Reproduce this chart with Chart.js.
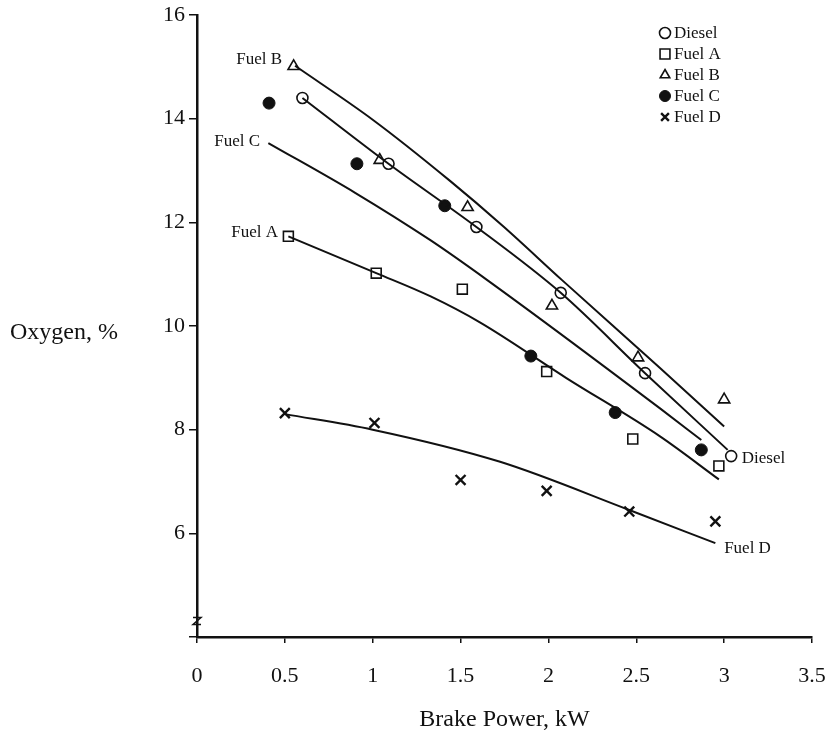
<!DOCTYPE html>
<html>
<head>
<meta charset="utf-8">
<script src="https://cdn.jsdelivr.net/npm/chart.js@4/dist/chart.umd.min.js"></script>
<style>
  body { margin: 0; background: #fff; }
  #wrap { width: 831px; height: 738px; }
</style>
</head>
<body>
<div id="wrap"><canvas id="oxygenChart" width="831" height="738"></canvas></div>
<script>
// measured points (brake power kW, oxygen %)
const dieselX = [0.6, 1.09, 1.59, 2.07, 2.55, 3.04];
const dieselY = [14.4, 13.13, 11.91, 10.64, 9.09, 7.49];
const fuelAX = [0.52, 1.02, 1.51, 1.99, 2.48, 2.97];
const fuelAY = [11.73, 11.02, 10.71, 9.12, 7.82, 7.3];
const fuelBX = [0.55, 1.04, 1.54, 2.02, 2.51, 3.0];
const fuelBY = [15.01, 13.2, 12.29, 10.39, 9.39, 8.58];
const fuelCX = [0.41, 0.91, 1.41, 1.9, 2.38, 2.87];
const fuelCY = [14.3, 13.13, 12.32, 9.42, 8.33, 7.61];
const fuelDX = [0.5, 1.01, 1.5, 1.99, 2.46, 2.95];
const fuelDY = [8.32, 8.13, 7.03, 6.82, 6.42, 6.23];

// trend curves
const dieselFitX = [0.6, 1.09, 1.59, 2.07, 2.55, 3.02];
const dieselFitY = [14.4, 13.13, 11.91, 10.64, 9.09, 7.61];
const fuelAFitX = [0.52, 1.02, 1.33, 1.61, 2.1, 2.635, 2.97];
const fuelAFitY = [11.73, 11.02, 10.57, 10.07, 9.0, 7.87, 7.04];
const fuelBFitX = [0.558, 1.0, 1.44, 1.744, 2.076, 2.635, 3.0];
const fuelBFitY = [15.02, 13.98, 12.8, 11.92, 10.89, 9.19, 8.06];
const fuelCFitX = [0.406, 0.9, 1.326, 1.65, 2.635, 2.87];
const fuelCFitY = [13.53, 12.57, 11.66, 10.89, 8.41, 7.8];
const fuelDFitX = [0.5, 1.0, 1.725, 2.46, 2.95];
const fuelDFitY = [8.3, 8.0, 7.38, 6.45, 5.81];

const seriesNames = ["Diesel", "Fuel A", "Fuel B", "Fuel C", "Fuel D"];
const xTicks = [0, 0.5, 1, 1.5, 2, 2.5, 3, 3.5];
const yTicks = [4, 6, 8, 10, 12, 14, 16];

// curve labels: text, x, y (data units), side of the anchor
const curveLabels = [
  ["Fuel B", 0.484, 15.14, "right"],
  ["Fuel C", 0.359, 13.56, "right"],
  ["Fuel A", 0.461, 11.8, "right"],
  ["Diesel", 3.1, 7.44, "left"],
  ["Fuel D", 3.0, 5.7, "left"]
];

const serif = "'Liberation Serif', 'Times New Roman', serif";

function pts(xs, ys) {
  return xs.map((x, i) => ({ x: x, y: ys[i] }));
}

const markerStyles = [
  { pointStyle: "circle", radius: 5.5, backgroundColor: "#fff", borderWidth: 1.6 },
  { pointStyle: "rect", radius: 7, backgroundColor: "#fff", borderWidth: 1.6 },
  { pointStyle: "triangle", radius: 6.5, backgroundColor: "#fff", borderWidth: 1.6 },
  { pointStyle: "circle", radius: 6, backgroundColor: "#111", borderWidth: 1 },
  { pointStyle: "crossRot", radius: 7, backgroundColor: "#111", borderWidth: 2.4 }
];

const markerData = [pts(dieselX, dieselY), pts(fuelAX, fuelAY), pts(fuelBX, fuelBY), pts(fuelCX, fuelCY), pts(fuelDX, fuelDY)];
const fitData = [pts(dieselFitX, dieselFitY), pts(fuelAFitX, fuelAFitY), pts(fuelBFitX, fuelBFitY), pts(fuelCFitX, fuelCFitY), pts(fuelDFitX, fuelDFitY)];

const datasets = [];
fitData.forEach((d, i) => {
  datasets.push({
    label: seriesNames[i] + " fit",
    data: d,
    showLine: true,
    borderColor: "#111",
    borderWidth: 2,
    pointRadius: 0,
    cubicInterpolationMode: "monotone",
    fill: false
  });
});
markerData.forEach((d, i) => {
  const s = markerStyles[i];
  datasets.push({
    label: seriesNames[i],
    data: d,
    showLine: false,
    pointStyle: s.pointStyle,
    pointRadius: s.radius,
    pointBackgroundColor: s.backgroundColor,
    pointBorderColor: "#111",
    pointBorderWidth: s.borderWidth
  });
});

const extras = {
  id: "extras",
  afterDraw(chart) {
    const ctx = chart.ctx;
    const xs = chart.scales.x, ys = chart.scales.y;
    ctx.save();
    ctx.fillStyle = "#111";
    ctx.strokeStyle = "#111";

    // axis titles
    ctx.font = "24px " + serif;
    ctx.textAlign = "center";
    ctx.textBaseline = "middle";
    ctx.fillText("Brake Power, kW", (xs.left + xs.right) / 2, 720);
    ctx.textAlign = "left";
    ctx.fillText("Oxygen, %", 10, 333);

    // curve labels
    ctx.font = "17px " + serif;
    curveLabels.forEach(([t, x, y, side]) => {
      ctx.textAlign = side;
      ctx.fillText(t, xs.getPixelForValue(x), ys.getPixelForValue(y));
    });

    // axis break mark
    const bx = xs.left, by = ys.getPixelForValue(4.3);
    ctx.lineWidth = 1.5;
    ctx.beginPath();
    ctx.moveTo(bx - 4, by - 4);
    ctx.lineTo(bx + 4, by - 4);
    ctx.lineTo(bx - 4, by + 3);
    ctx.lineTo(bx + 4, by + 3);
    ctx.stroke();

    // legend
    ctx.font = "17px " + serif;
    ctx.textAlign = "left";
    seriesNames.forEach((name, i) => {
      const s = markerStyles[i];
      const y = 33 + i * 21;
      ctx.fillStyle = s.backgroundColor;
      ctx.lineWidth = s.borderWidth;
      Chart.helpers.drawPoint(ctx, {
        pointStyle: s.pointStyle,
        radius: s.pointStyle === "rect" ? 7 : 5.5,
        borderWidth: s.borderWidth,
        rotation: 0
      }, 665, y);
      ctx.fillStyle = "#111";
      ctx.fillText(name, 674, y + 1);
    });
    ctx.restore();
  }
};

new Chart(document.getElementById("oxygenChart"), {
  type: "scatter",
  data: { datasets: datasets },
  options: {
    responsive: false,
    animation: false,
    layout: { padding: { top: 15, right: 19, left: 0, bottom: 0 } },
    plugins: { legend: { display: false }, tooltip: { enabled: false } },
    scales: {
      x: {
        type: "linear",
        min: xTicks[0],
        max: xTicks[xTicks.length - 1],
        afterBuildTicks: s => { s.ticks = xTicks.map(v => ({ value: v })); },
        afterFit: s => { s.height = 101; s.paddingRight = 0; s.paddingLeft = 0; },
        ticks: { color: "#111", font: { family: serif, size: 22 }, padding: 20, maxRotation: 0, callback: v => String(v) },
        grid: { drawOnChartArea: false, color: "#111", tickLength: 6, lineWidth: 1.5 },
        border: { color: "#111", width: 2.5 }
      },
      y: {
        type: "linear",
        min: yTicks[0],
        max: yTicks[yTicks.length - 1],
        afterBuildTicks: s => { s.ticks = yTicks.map(v => ({ value: v })); },
        afterFit: s => { s.width = 197; s.paddingTop = 0; s.paddingBottom = 0; },
        ticks: { color: "#111", font: { family: serif, size: 22 }, padding: 4, callback: v => (v === 4 ? "" : String(v)) },
        grid: { drawOnChartArea: false, color: "#111", tickLength: 8, lineWidth: 1.5 },
        border: { color: "#111", width: 2.5 }
      }
    }
  },
  plugins: [extras]
});
</script>
</body>
</html>
